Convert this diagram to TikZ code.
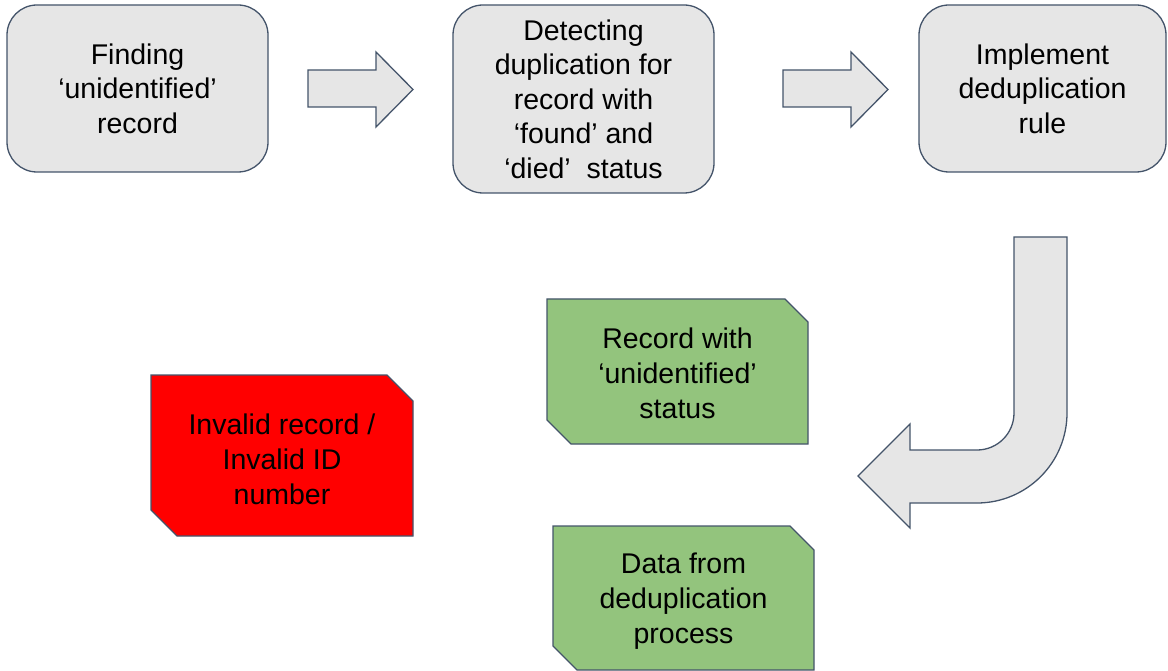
\documentclass[tikz,border=0pt]{standalone}
\usepackage{fontspec}
\setmainfont{Liberation Sans}
\definecolor{edgec}{RGB}{68,84,106}
\definecolor{grayc}{RGB}{230,230,230}
\definecolor{greenc}{RGB}{147,196,125}
\definecolor{redc}{RGB}{255,0,0}
\begin{document}
\begin{tikzpicture}[x=1pt,y=-1pt,
  procbox/.style={draw=edgec, fill=grayc, line width=1.3pt, rounded corners=30pt,
    minimum width=261pt, inner sep=0pt, align=center, font=\fontsize{28.5}{34.5}\selectfont},
  blockarrow/.style={draw=edgec, fill=grayc, line width=1.3pt, line join=miter},
  snipshape/.style={draw=edgec, line width=1.3pt, line join=miter},
  txt/.style={align=center, inner sep=0pt, font=\fontsize{28.5}{35}\selectfont, text=black}]
\useasboundingbox (0,0) rectangle (1168,671);

% top process boxes
\node[procbox, minimum height=167pt] (b1) at (137.5,88.5) {Finding\\‘unidentified’\\record};
\node[procbox, minimum height=188pt] (b2) at (583.5,99) {Detecting\\duplication for\\record with\\‘found’ and\\‘died’\ \ status};
\node[procbox, minimum height=167pt, minimum width=247pt] (b3) at (1042.5,88.5) {Implement\\deduplication\\rule};

% block arrows between boxes
\draw[blockarrow] (308,70) -- (376,70) -- (376,52) -- (413,89.5) -- (376,127) -- (376,107) -- (308,107) -- cycle;
\draw[blockarrow] (783,70) -- (851,70) -- (851,52) -- (888,89.5) -- (851,127) -- (851,107) -- (783,107) -- cycle;

% U-turn arrow
\draw[blockarrow] (1014,237) -- (1067,237) -- (1067,413) arc (0:90:90)
  -- (910,503) -- (910,528) -- (858,476) -- (910,424) -- (910,450) -- (977,450)
  arc (90:0:37) -- cycle;

% snipped shapes
\draw[snipshape, fill=greenc] (547,299) -- (785,299) -- (808,322) -- (808,444) -- (571,444) -- (547,420) -- cycle;
\node[txt] (g1) at (677.5,373) {Record with\\‘unidentified’\\status};

\draw[snipshape, fill=redc] (151,375) -- (387,375) -- (413,401) -- (413,536) -- (177,536) -- (151,510) -- cycle;
\node[txt] (r1) at (282,459) {Invalid record /\\Invalid ID\\number};

\draw[snipshape, fill=greenc] (553,526) -- (790,526) -- (814,550) -- (814,670) -- (577,670) -- (553,646) -- cycle;
\node[txt] (g2) at (683.5,601) {Data from\\deduplication\\process};
\end{tikzpicture}
\end{document}
